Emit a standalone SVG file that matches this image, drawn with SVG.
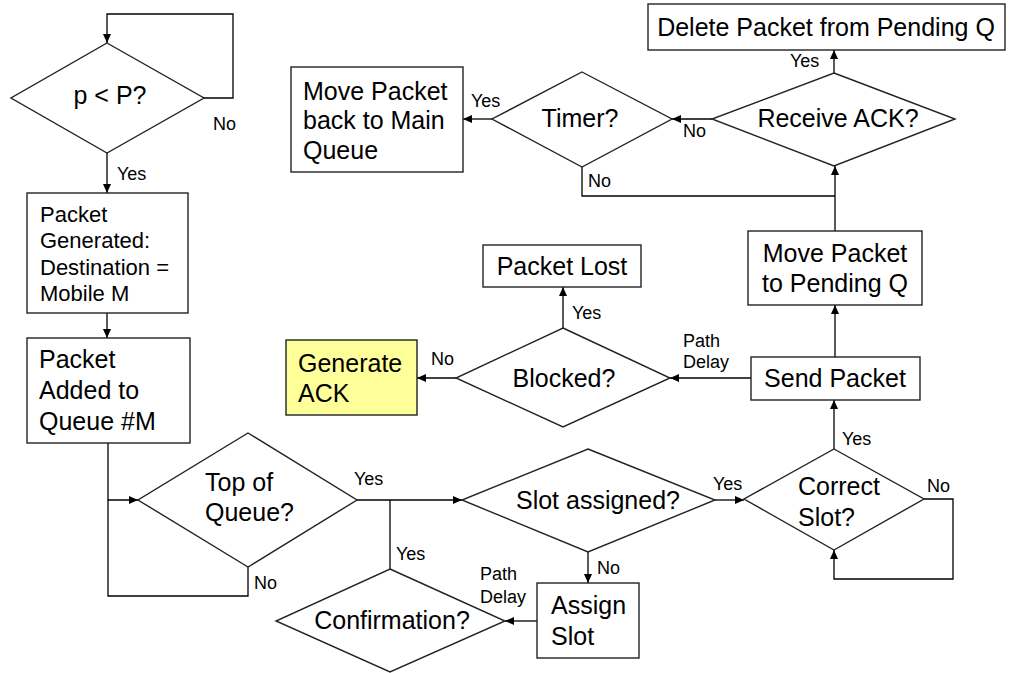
<svg xmlns="http://www.w3.org/2000/svg" width="1011" height="673" viewBox="0 0 1011 673">
<defs>
<marker id="arr" markerUnits="userSpaceOnUse" markerWidth="10" markerHeight="8" refX="9" refY="4" orient="auto">
<path d="M0,0 L9,4 L0,8 Z" fill="#000"/>
</marker>
<style>
.n{fill:#fff;stroke:#222;stroke-width:1.4}
.y{fill:#ffff99;stroke:#222;stroke-width:1.4}
.t{font-family:"Liberation Sans",Arial,sans-serif;font-size:25px;fill:#000}
.m{font-family:"Liberation Sans",Arial,sans-serif;font-size:22px;fill:#000}
.s{font-family:"Liberation Sans",Arial,sans-serif;font-size:18px;fill:#000}
.c{text-anchor:middle}
.e{fill:none;stroke:#000;stroke-width:1.3}
.a{marker-end:url(#arr)}
</style>
</defs>
<rect width="1011" height="673" fill="#fff"/>
<g id="connectors">
<path class="e a" d="M204,98 H233 V14 H107 V43"/>
<path class="e a" d="M107,153 V193"/>
<path class="e a" d="M107,313 V338"/>
<path class="e a" d="M108,443 V500 H138"/>
<path class="e" d="M248,567 V596 H108 V500"/>
<path class="e a" d="M357,500 H462"/>
<path class="e" d="M390,500 V569"/>
<path class="e a" d="M715,500 H744"/>
<path class="e a" d="M588,552 V583"/>
<path class="e a" d="M537,621 H505"/>
<path class="e a" d="M924,499 H953 V579 H834 V550"/>
<path class="e a" d="M834,449 V400"/>
<path class="e a" d="M835,357 V305"/>
<path class="e a" d="M751,378 H670"/>
<path class="e a" d="M563,328 V287"/>
<path class="e a" d="M456,378 H417"/>
<path class="e a" d="M835,231 V166"/>
<path class="e" d="M582,167 V196 H835"/>
<path class="e a" d="M712,119 H672"/>
<path class="e a" d="M492,119 H463"/>
<path class="e a" d="M834,73 V50"/>
<text class="s" x="213" y="130">No</text>
<text class="s" x="117" y="180">Yes</text>
<text class="s" x="254" y="589">No</text>
<text class="s" x="354" y="485">Yes</text>
<text class="s" x="396" y="560">Yes</text>
<text class="s" x="480" y="580">Path</text>
<text class="s" x="480" y="603">Delay</text>
<text class="s" x="597" y="574">No</text>
<text class="s" x="713" y="490">Yes</text>
<text class="s" x="927" y="492">No</text>
<text class="s" x="842" y="445">Yes</text>
<text class="s" x="683" y="347">Path</text>
<text class="s" x="683" y="368">Delay</text>
<text class="s" x="572" y="319">Yes</text>
<text class="s" x="431" y="365">No</text>
<text class="s" x="471" y="107">Yes</text>
<text class="s" x="683" y="137">No</text>
<text class="s" x="588" y="187">No</text>
<text class="s" x="790" y="67">Yes</text>
</g>
<g id="pP">
<polygon class="n" points="107,43 204,98 107,153 11,98"/>
<text class="t c" x="110" y="104">p &lt; P?</text>
</g>
<g id="generated">
<rect class="n" x="27" y="193" width="161" height="120"/>
<text class="m" x="40" y="222">Packet</text>
<text class="m" x="40" y="248">Generated:</text>
<text class="m" x="40" y="275">Destination =</text>
<text class="m" x="40" y="301">Mobile M</text>
</g>
<g id="added">
<rect class="n" x="27" y="338" width="163" height="105"/>
<text class="t" x="39" y="368">Packet</text>
<text class="t" x="39" y="399">Added to</text>
<text class="t" x="39" y="430">Queue #M</text>
</g>
<g id="topq">
<polygon class="n" points="248,433 357,500 248,567 138,500"/>
<text class="t" x="205" y="491">Top of</text>
<text class="t" x="205" y="521">Queue?</text>
</g>
<g id="confirm">
<polygon class="n" points="390,569 505,621 390,672 276,621"/>
<text class="t c" x="392" y="629">Confirmation?</text>
</g>
<g id="slotassigned">
<polygon class="n" points="588,449 715,500 588,552 462,500"/>
<text class="t c" x="598" y="509">Slot assigned?</text>
</g>
<g id="assign">
<rect class="n" x="537" y="583" width="102" height="75"/>
<text class="t" x="551" y="614">Assign</text>
<text class="t" x="551" y="645">Slot</text>
</g>
<g id="correct">
<polygon class="n" points="834,449 924,499 834,550 744,499"/>
<text class="t" x="798" y="495">Correct</text>
<text class="t" x="798" y="526">Slot?</text>
</g>
<g id="send">
<rect class="n" x="751" y="357" width="169" height="43"/>
<text class="t c" x="835" y="387">Send Packet</text>
</g>
<g id="pending">
<rect class="n" x="748" y="231" width="174" height="74"/>
<text class="t c" x="835" y="262">Move Packet</text>
<text class="t c" x="835" y="292">to Pending Q</text>
</g>
<g id="blocked">
<polygon class="n" points="563,328 670,378 563,427 456,378"/>
<text class="t c" x="564" y="387">Blocked?</text>
</g>
<g id="lost">
<rect class="n" x="483" y="245" width="158" height="42"/>
<text class="t c" x="562" y="275">Packet Lost</text>
</g>
<g id="ack">
<rect class="y" x="286" y="340" width="131" height="75"/>
<text class="t" x="298" y="372">Generate</text>
<text class="t" x="298" y="402">ACK</text>
</g>
<g id="timer">
<polygon class="n" points="582,72 672,119 582,167 492,119"/>
<text class="t c" x="580" y="127">Timer?</text>
</g>
<g id="receive">
<polygon class="n" points="834,73 955,119 834,166 712,119"/>
<text class="t c" x="838" y="127">Receive ACK?</text>
</g>
<g id="moveback">
<rect class="n" x="291" y="67" width="172" height="105"/>
<text class="t" x="303" y="100">Move Packet</text>
<text class="t" x="303" y="129">back to Main</text>
<text class="t" x="303" y="159">Queue</text>
</g>
<g id="delete">
<rect class="n" x="648" y="4" width="357" height="46"/>
<text class="t c" x="826" y="36">Delete Packet from Pending Q</text>
</g>
</svg>
